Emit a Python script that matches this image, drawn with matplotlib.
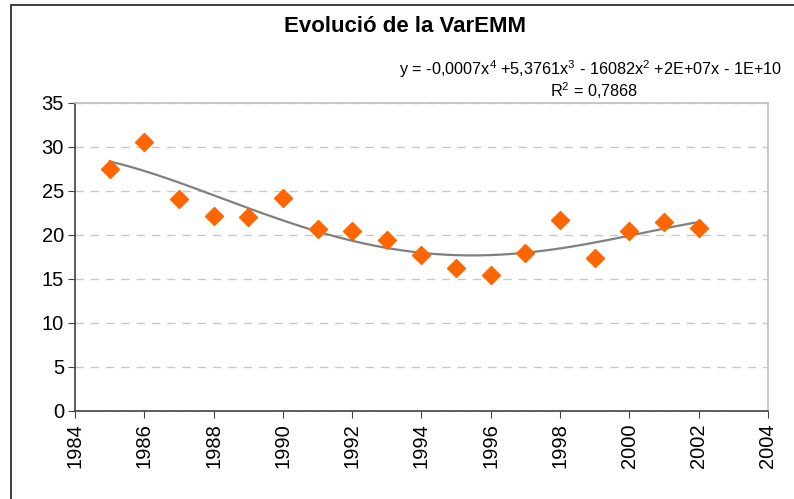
import numpy as np
import matplotlib.pyplot as plt
from matplotlib.patches import Rectangle

plt.rcParams['font.family'] = ['Liberation Sans', 'DejaVu Sans']
plt.rcParams['mathtext.fontset'] = 'custom'
plt.rcParams['mathtext.rm'] = 'Liberation Sans'

# data
years = [1985, 1986, 1987, 1988, 1989, 1990, 1991, 1992, 1993,
         1994, 1995, 1996, 1997, 1998, 1999, 2000, 2001, 2002]
var_emm = [27.5, 30.6, 24.1, 22.2, 22.0, 24.2, 20.7, 20.4, 19.4,
           17.7, 16.3, 15.4, 17.9, 21.7, 17.4, 20.4, 21.5, 20.8]
title = 'Evolució de la VarEMM'
eq_text = 'y = -0,0007x$^4$ +5,3761x$^3$ - 16082x$^2$ +2E+07x - 1E+10'
r2_text = 'R$^2$ = 0,7868'

fig = plt.figure(figsize=(7.94, 4.99), dpi=100)
ax = fig.add_axes([0.0945, 0.1764, 0.8727, 0.6172])

# polynomial trend (order 4) fitted to the points
x = np.array(years, dtype=float)
xc = x.mean()
coef = np.polyfit(x - xc, var_emm, 4)
xs = np.linspace(x.min(), x.max(), 200)
ax.plot(xs, np.polyval(coef, xs - xc), color='#808080', linewidth=1.6, zorder=2)

ax.plot(years, var_emm, linestyle='none', marker='D', markersize=9.5,
        color='#ff6600', markeredgecolor='#ff6600', zorder=3)

ax.set_xlim(1984, 2004)
ax.set_ylim(0, 35)
ax.set_xticks(range(1984, 2005, 2))
ax.set_yticks(range(0, 36, 5))
ax.tick_params(axis='x', labelsize=14.5, rotation=90, direction='out', length=5,
               color='#404040', pad=4)
ax.tick_params(axis='y', labelsize=14.5, direction='out', length=5,
               color='#404040', pad=3)
ax.grid(axis='y', linestyle=(0, (6, 5)), color='#c8c8c8', linewidth=1)
ax.set_axisbelow(True)

for s in ['left', 'bottom']:
    ax.spines[s].set_color('#404040')
    ax.spines[s].set_linewidth(1.2)
for s in ['top', 'right']:
    ax.spines[s].set_color('#c0c0c0')
    ax.spines[s].set_linewidth(1.2)

fig.text(405 / 794, 1 - 27 / 499, title, ha='center', va='center',
         fontsize=16, fontweight='bold')
fig.text(591 / 794, 1 - 69 / 499, eq_text, ha='center', va='center', fontsize=11.7)
fig.text(594 / 794, 1 - 91 / 499, r2_text, ha='center', va='center', fontsize=11.7)

# outer chart frame
fig.patches.append(Rectangle((11 / 794, -0.05), 1.1, 1 - 5 / 499 + 0.05,
                             transform=fig.transFigure, fill=False,
                             edgecolor='#303030', linewidth=1.3))

fig.savefig('out.png', dpi=100)
